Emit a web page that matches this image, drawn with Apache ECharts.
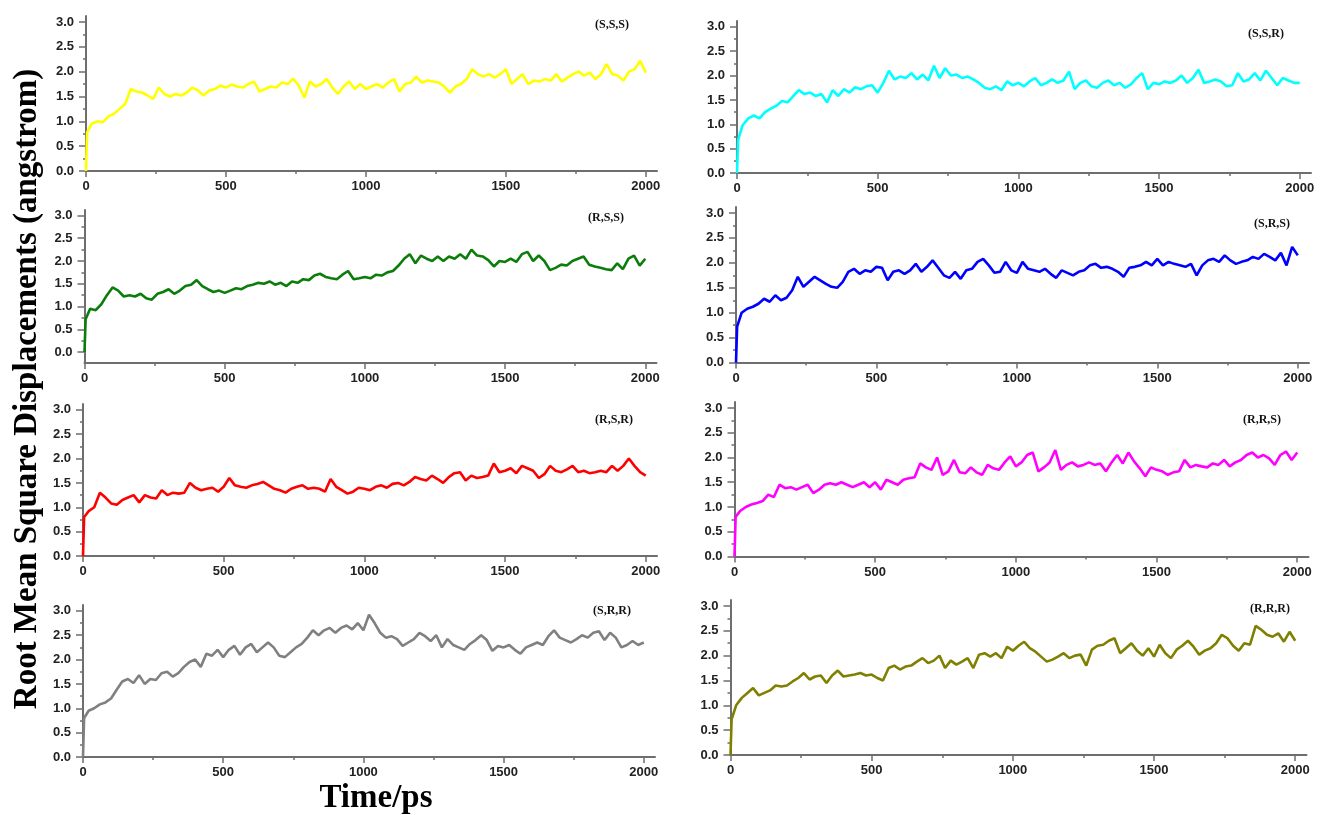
<!DOCTYPE html>
<html>
<head>
<meta charset="utf-8">
<script src="https://cdn.jsdelivr.net/npm/echarts@6/dist/echarts.min.js"></script>
<style>
  html, body { margin: 0; padding: 0; background: #fff; }
  #main { width: 1320px; height: 815px; }
</style>
</head>
<body>
<div id="main"></div>
<script>
// time axis: 0, 4, then every 20 ps
var timePs = [0, 4];
for (var t = 20; t <= 2000; t += 20) timePs.push(t);

var xLabelValues = [0, 500, 1000, 1500, 2000];
var xMinorValues = [250, 750, 1250, 1750];
var yLabelValues = [0, 0.5, 1, 1.5, 2, 2.5, 3];
var yMinorValues = [0.25, 0.75, 1.25, 1.75, 2.25, 2.75];

var labels = ['(S,S,S)', '(S,S,R)', '(R,S,S)', '(S,R,S)', '(R,S,R)', '(R,R,S)', '(S,R,R)', '(R,R,R)'];

var rmsdSSS = [0, 0.78,
  0.95, 1.0, 0.98, 1.1, 1.15, 1.25, 1.35, 1.65, 1.6, 1.58,
  1.52, 1.45, 1.68, 1.55, 1.5, 1.55, 1.52, 1.58, 1.68, 1.62,
  1.52, 1.62, 1.65, 1.72, 1.68, 1.74, 1.7, 1.68, 1.75, 1.8,
  1.6, 1.65, 1.7, 1.68, 1.78, 1.75, 1.86, 1.72, 1.48, 1.8,
  1.7, 1.75, 1.85, 1.68, 1.55, 1.7, 1.8, 1.65, 1.75, 1.65,
  1.7, 1.75, 1.68, 1.78, 1.85, 1.6, 1.75, 1.78, 1.9, 1.78,
  1.82, 1.8, 1.78, 1.7, 1.58, 1.7, 1.75, 1.85, 2.05, 1.95,
  1.9, 1.95, 1.88, 1.95, 2.05, 1.75, 1.85, 1.95, 1.75, 1.82,
  1.8, 1.85, 1.82, 1.95, 1.8, 1.88, 1.95, 2.0, 1.92, 1.98,
  1.85, 1.95, 2.15, 1.95, 1.92, 1.82, 2.0, 2.05, 2.22, 1.98];

var rmsdSSR = [0, 0.68,
  0.98, 1.12, 1.18, 1.12, 1.25, 1.32, 1.38, 1.48, 1.45, 1.58,
  1.7, 1.62, 1.65, 1.58, 1.62, 1.45, 1.7, 1.58, 1.72, 1.65,
  1.76, 1.72, 1.78, 1.8, 1.65, 1.85, 2.1, 1.92, 1.98, 1.95,
  2.05, 1.92, 2.02, 1.9, 2.2, 1.95, 2.15, 2.0, 2.02, 1.95,
  1.98, 1.92, 1.85, 1.75, 1.72, 1.78, 1.7, 1.88, 1.8, 1.85,
  1.78, 1.88, 1.95, 1.8, 1.85, 1.92, 1.85, 1.9, 2.08, 1.72,
  1.85, 1.9, 1.78, 1.75, 1.85, 1.9, 1.8, 1.85, 1.75, 1.82,
  1.95, 2.05, 1.72, 1.85, 1.82, 1.88, 1.85, 1.9, 2.0, 1.85,
  1.95, 2.12, 1.85, 1.88, 1.92, 1.88, 1.78, 1.8, 2.05, 1.88,
  1.92, 2.05, 1.9, 2.1, 1.95, 1.8, 1.95, 1.9, 1.85, 1.85];

var rmsdRSS = [0, 0.72,
  0.95, 0.92, 1.05, 1.25, 1.42, 1.35, 1.22, 1.25, 1.22, 1.28,
  1.18, 1.15, 1.28, 1.32, 1.38, 1.28, 1.35, 1.45, 1.48, 1.58,
  1.45, 1.38, 1.32, 1.35, 1.3, 1.35, 1.4, 1.38, 1.45, 1.48,
  1.52, 1.5, 1.55, 1.48, 1.52, 1.45, 1.55, 1.52, 1.6, 1.58,
  1.68, 1.72, 1.65, 1.62, 1.6, 1.7, 1.78, 1.6, 1.62, 1.65,
  1.62, 1.7, 1.68, 1.75, 1.78, 1.9, 2.05, 2.15, 1.95, 2.12,
  2.05, 2.0, 2.1, 2.0, 2.1, 2.05, 2.15, 2.05, 2.25, 2.12,
  2.1, 2.02, 1.88, 2.0, 1.98, 2.05, 1.98, 2.15, 2.2, 2.0,
  2.12, 2.0, 1.8, 1.85, 1.92, 1.9, 2.0, 2.05, 2.1, 1.92,
  1.88, 1.85, 1.82, 1.8, 1.95, 1.82, 2.05, 2.12, 1.9, 2.05];

var rmsdSRS = [0, 0.72,
  1.0, 1.08, 1.12, 1.18, 1.28, 1.22, 1.35, 1.25, 1.3, 1.45,
  1.72, 1.52, 1.62, 1.72, 1.65, 1.58, 1.52, 1.5, 1.62, 1.82,
  1.88, 1.78, 1.85, 1.82, 1.92, 1.9, 1.65, 1.82, 1.85, 1.78,
  1.85, 1.98, 1.82, 1.92, 2.05, 1.9, 1.75, 1.7, 1.82, 1.68,
  1.85, 1.88, 2.02, 2.08, 1.95, 1.8, 1.82, 2.02, 1.85, 1.8,
  2.02, 1.88, 1.85, 1.82, 1.88, 1.78, 1.7, 1.85, 1.8, 1.75,
  1.82, 1.85, 1.95, 1.98, 1.9, 1.92, 1.88, 1.82, 1.72, 1.9,
  1.92, 1.95, 2.02, 1.95, 2.08, 1.95, 2.02, 1.98, 1.95, 1.92,
  1.98, 1.75, 1.95, 2.05, 2.08, 2.02, 2.15, 2.05, 1.98, 2.02,
  2.05, 2.12, 2.08, 2.18, 2.12, 2.05, 2.2, 1.95, 2.32, 2.15];

var rmsdRSR = [0, 0.8,
  0.92, 1.0, 1.3, 1.2, 1.08, 1.05, 1.15, 1.2, 1.25, 1.1,
  1.25, 1.2, 1.18, 1.35, 1.25, 1.3, 1.28, 1.3, 1.5, 1.4,
  1.35, 1.38, 1.4, 1.32, 1.42, 1.6, 1.45, 1.42, 1.4, 1.45,
  1.48, 1.52, 1.45, 1.38, 1.35, 1.3, 1.38, 1.42, 1.45, 1.38,
  1.4, 1.38, 1.32, 1.58, 1.42, 1.35, 1.28, 1.32, 1.4, 1.38,
  1.35, 1.42, 1.45, 1.4, 1.48, 1.5, 1.45, 1.52, 1.62, 1.58,
  1.55, 1.65, 1.58, 1.5, 1.62, 1.7, 1.72, 1.55, 1.65, 1.6,
  1.62, 1.65, 1.9, 1.72, 1.75, 1.8, 1.7, 1.85, 1.8, 1.75,
  1.6, 1.68, 1.85, 1.75, 1.72, 1.78, 1.85, 1.72, 1.75, 1.7,
  1.72, 1.75, 1.72, 1.85, 1.75, 1.85, 2.0, 1.85, 1.72, 1.65];

var rmsdRRS = [0, 0.8,
  0.92, 1.0, 1.05, 1.08, 1.12, 1.25, 1.2, 1.45, 1.38, 1.4,
  1.35, 1.4, 1.45, 1.28, 1.35, 1.45, 1.48, 1.45, 1.5, 1.45,
  1.4, 1.45, 1.5, 1.4, 1.5, 1.35, 1.55, 1.5, 1.45, 1.55,
  1.58, 1.6, 1.88, 1.8, 1.75, 2.0, 1.65, 1.72, 1.95, 1.7,
  1.68, 1.8, 1.7, 1.65, 1.85, 1.78, 1.75, 1.9, 2.02, 1.82,
  1.9, 2.05, 2.1, 1.72, 1.8, 1.9, 2.15, 1.75, 1.85, 1.9,
  1.82, 1.85, 1.9, 1.85, 1.88, 1.72, 1.9, 2.05, 1.88, 2.1,
  1.92, 1.78, 1.62, 1.8, 1.75, 1.72, 1.65, 1.7, 1.72, 1.95,
  1.8, 1.85, 1.82, 1.8, 1.88, 1.85, 1.95, 1.82, 1.9, 1.95,
  2.05, 2.1, 2.0, 2.05, 1.98, 1.85, 2.05, 2.12, 1.95, 2.1];

var rmsdSRR = [0, 0.8,
  0.95, 1.0, 1.08, 1.12, 1.2, 1.38, 1.55, 1.6, 1.52, 1.68,
  1.5, 1.6, 1.58, 1.72, 1.75, 1.65, 1.72, 1.85, 1.95, 2.0,
  1.85, 2.12, 2.08, 2.2, 2.05, 2.2, 2.28, 2.1, 2.25, 2.32,
  2.15, 2.25, 2.35, 2.25, 2.08, 2.05, 2.15, 2.25, 2.32, 2.45,
  2.6, 2.5, 2.6, 2.65, 2.55, 2.65, 2.7, 2.62, 2.75, 2.6,
  2.92, 2.75, 2.55, 2.45, 2.48, 2.42, 2.28, 2.35, 2.42, 2.55,
  2.48, 2.38, 2.5, 2.25, 2.42, 2.3, 2.25, 2.2, 2.32, 2.4,
  2.5, 2.4, 2.18, 2.28, 2.25, 2.3, 2.2, 2.12, 2.25, 2.3,
  2.35, 2.3, 2.48, 2.6, 2.45, 2.4, 2.35, 2.42, 2.5, 2.45,
  2.55, 2.58, 2.4, 2.55, 2.45, 2.25, 2.3, 2.38, 2.3, 2.35];

var rmsdRRR = [0, 0.72,
  1.0, 1.15, 1.25, 1.35, 1.2, 1.25, 1.3, 1.4, 1.38, 1.4,
  1.48, 1.55, 1.65, 1.52, 1.58, 1.6, 1.45, 1.6, 1.7, 1.58,
  1.6, 1.62, 1.65, 1.6, 1.62, 1.55, 1.5, 1.75, 1.8, 1.72,
  1.78, 1.8, 1.88, 1.95, 1.85, 1.9, 2.0, 1.75, 1.9, 1.82,
  1.88, 1.95, 1.75, 2.02, 2.05, 1.98, 2.05, 1.95, 2.18, 2.1,
  2.2, 2.28, 2.15, 2.08, 1.98, 1.88, 1.92, 1.98, 2.05, 1.95,
  2.0, 2.02, 1.8, 2.12, 2.2, 2.22, 2.3, 2.35, 2.05, 2.15,
  2.25, 2.1, 2.0, 2.15, 1.98, 2.22, 2.05, 1.95, 2.12, 2.2,
  2.3, 2.18, 2.02, 2.1, 2.15, 2.25, 2.42, 2.35, 2.2, 2.1,
  2.25, 2.22, 2.6, 2.52, 2.42, 2.38, 2.45, 2.28, 2.48, 2.3];

var axisGray = '#6e6e6e';
var panels = [
  { label: labels[0], data: rmsdSSS, color: '#ffff00', yMin: 0,     grid: { left: 86,    top: 16,  width: 571, height: 155 },   tag: [612, 25] },
  { label: labels[1], data: rmsdSSR, color: '#00ffff', yMin: 0,     grid: { left: 737,   top: 21,  width: 574, height: 152 },   tag: [1266, 34] },
  { label: labels[2], data: rmsdRSS, color: '#0a7d0a', yMin: -0.24, grid: { left: 84.5,  top: 210, width: 572, height: 153 },   tag: [606, 218] },
  { label: labels[3], data: rmsdSRS, color: '#0000ff', yMin: 0,     grid: { left: 736,   top: 207, width: 573, height: 155.6 }, tag: [1272, 224] },
  { label: labels[4], data: rmsdRSR, color: '#ff0000', yMin: 0,     grid: { left: 83,    top: 404, width: 574, height: 152 },   tag: [614, 420] },
  { label: labels[5], data: rmsdRRS, color: '#ff00ff', yMin: 0,     grid: { left: 734.5, top: 402, width: 574, height: 154.5 }, tag: [1262, 420] },
  { label: labels[6], data: rmsdSRR, color: '#808080', yMin: 0,     grid: { left: 83,    top: 605, width: 572, height: 152 },   tag: [612, 611] },
  { label: labels[7], data: rmsdRRR, color: '#808000', yMin: 0,     grid: { left: 730.5, top: 600, width: 576, height: 155 },   tag: [1270, 609] }
];

var grids = [], xAxes = [], yAxes = [], series = [], graphics = [];
var labelStyle = { color: '#222', fontFamily: 'Liberation Sans', fontWeight: 'bold', fontSize: 13 };

panels.forEach(function (p, i) {
  grids.push(p.grid);
  // main axes
  xAxes.push({
    gridIndex: i, type: 'value', position: 'bottom', min: 0, max: 2040,
    axisLine: { onZero: false, lineStyle: { color: axisGray, width: 2 } },
    axisTick: { customValues: xLabelValues, length: 6, lineStyle: { color: axisGray, width: 1.5 } },
    axisLabel: Object.assign({ customValues: xLabelValues, margin: 9,
      formatter: function (v) { return String(v); } }, labelStyle),
    splitLine: { show: false }
  });
  yAxes.push({
    gridIndex: i, type: 'value', position: 'left', min: p.yMin, max: 3.12,
    axisLine: { show: true, onZero: false, lineStyle: { color: axisGray, width: 2 } },
    axisTick: { show: true, customValues: yLabelValues, length: 7, lineStyle: { color: axisGray, width: 1.5 } },
    axisLabel: Object.assign({ customValues: yLabelValues, margin: 12,
      formatter: function (v) { return v.toFixed(1); } }, labelStyle),
    splitLine: { show: false }
  });
  // minor ticks
  xAxes.push({
    gridIndex: i, type: 'value', position: 'bottom', min: 0, max: 2040,
    axisLine: { show: false, onZero: false },
    axisTick: { customValues: xMinorValues, length: 3, lineStyle: { color: axisGray, width: 1.5 } },
    axisLabel: { show: false }, splitLine: { show: false }
  });
  yAxes.push({
    gridIndex: i, type: 'value', position: 'left', min: p.yMin, max: 3.12,
    axisLine: { show: false, onZero: false },
    axisTick: { show: true, customValues: yMinorValues, length: 3, lineStyle: { color: axisGray, width: 1.5 } },
    axisLabel: { show: false }, splitLine: { show: false }
  });

  series.push({
    name: p.label, type: 'line', xAxisIndex: 2 * i, yAxisIndex: 2 * i,
    data: timePs.map(function (t, k) { return [t, p.data[k]]; }),
    showSymbol: false, symbol: 'none',
    lineStyle: { color: p.color, width: 2.6 },
    itemStyle: { color: p.color }
  });

  graphics.push({
    type: 'text', x: p.tag[0], y: p.tag[1],
    style: { text: p.label, font: 'bold 12px "Liberation Serif"', fill: '#111',
      textAlign: 'center', textVerticalAlign: 'middle' }
  });
});

graphics.push({
  type: 'text', x: 27, y: 389, rotation: Math.PI / 2,
  style: { text: 'Root Mean Square Displacements (angstrom)', font: 'bold 33px "Liberation Serif"',
    fill: '#000', textAlign: 'center', textVerticalAlign: 'middle' }
});
graphics.push({
  type: 'text', x: 376, y: 798,
  style: { text: 'Time/ps', font: 'bold 33px "Liberation Serif"', fill: '#000',
    textAlign: 'center', textVerticalAlign: 'middle' }
});

var option = {
  animation: false,
  backgroundColor: '#fff',
  grid: grids,
  xAxis: xAxes,
  yAxis: yAxes,
  series: series,
  graphic: graphics
};

var chart = echarts.init(document.getElementById('main'));
chart.setOption(option);
</script>
</body>
</html>
